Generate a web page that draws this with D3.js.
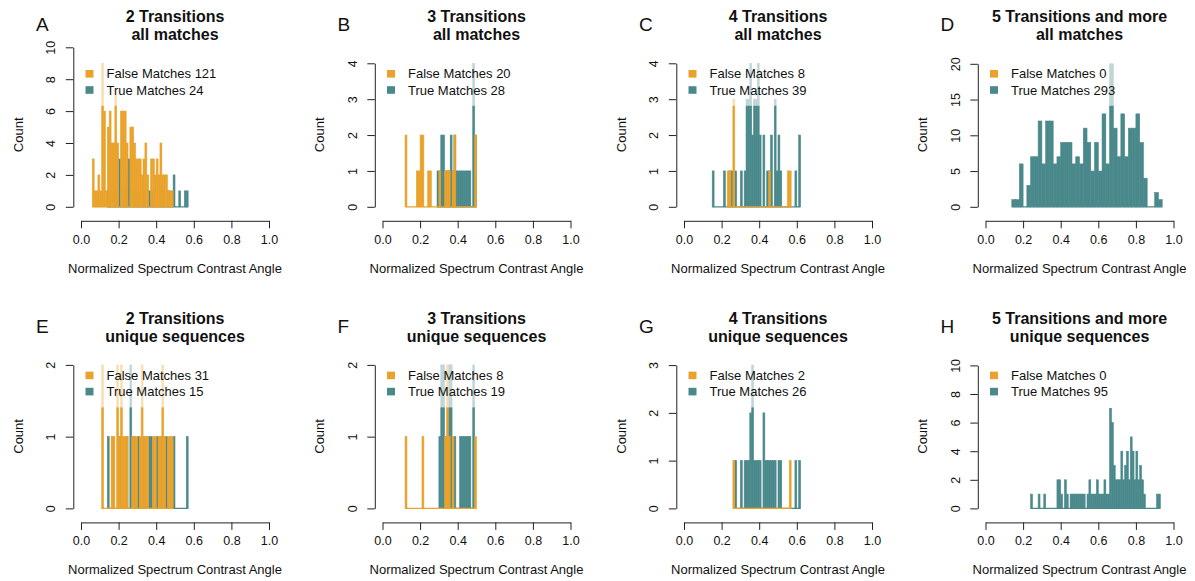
<!DOCTYPE html>
<html lang="en">
<head>
  <meta charset="UTF-8"/>
  <title>Normalized Spectrum Contrast Angle histograms</title>
  <script src="https://cdn.jsdelivr.net/npm/d3@7/dist/d3.min.js"></script>
  <style>
    body { margin: 0; background: #fff; }
    svg { display: block; font-family: 'Liberation Sans', Arial, Helvetica, sans-serif; }
    text { fill: #111; }
    .axis path, .axis line { stroke: #222; stroke-width: 1; }
    .axis text { font-size: 12.5px; fill: #111; }
    .title { font-size: 16px; font-weight: bold; }
    .label { font-size: 13px; }
    .legend text { font-size: 13px; }
    .letter { font-size: 19px; }
  </style>
</head>
<body>
<svg width="1195" height="581"></svg>
<script>
// panel texts
const letters = ['A', 'B', 'C', 'D', 'E', 'F', 'G', 'H'];
const titleTop = ['2 Transitions', '3 Transitions', '4 Transitions', '5 Transitions and more',
                  '2 Transitions', '3 Transitions', '4 Transitions', '5 Transitions and more'];
const titleBottom = ['all matches', 'all matches', 'all matches', 'all matches',
                     'unique sequences', 'unique sequences', 'unique sequences', 'unique sequences'];
const falseTotals = [121, 20, 8, 0, 31, 8, 2, 0];
const trueTotals = [24, 28, 39, 293, 15, 19, 26, 95];

// histogram bins (counts per bin)
const binWidths = [0.01, 0.01, 0.01, 0.02, 0.01, 0.01, 0.01, 0.01];
const falseStarts = [0.06, 0.12, 0.23, 0, 0.11, 0.12, 0.26, 0];
const trueStarts = [0.14, 0.29, 0.15, 0.14, 0.14, 0.30, 0.27, 0.24];

const falseA = [3, 1, 1, 2, 1, 9, 6, 1, 5, 6, 4, 4, 7, 4, 0, 6, 6, 6, 4, 0, 5, 5, 4, 3, 3, 3, 2, 3, 4, 2, 0, 3, 3, 2, 3, 2, 4, 2, 2, 2, 1, 1, 1];
const trueA = [1, 0, 0, 1, 1, 0, 3, 0, 1, 0, 2, 3, 0, 0, 1, 0, 1, 0, 0, 1, 0, 0, 1, 0, 1, 0, 0, 0, 0, 1, 0, 0, 1, 0, 0, 2, 0, 0, 1, 0, 0, 1, 1];
const falseB = [2, 0, 0, 0, 0, 0, 1, 1, 2, 2, 0, 0, 1, 1, 0, 0, 0, 0, 1, 0, 0, 1, 1, 1, 0, 1, 2, 0, 0, 0, 0, 0, 0, 0, 0, 0, 0, 2];
const trueB = [1, 1, 2, 2, 1, 1, 1, 2, 1, 2, 1, 1, 1, 1, 1, 1, 1, 1, 0, 4, 2];
const falseC = [1, 1, 0, 3, 0, 0, 0, 0, 0, 0, 0, 0, 0, 0, 0, 0, 0, 0, 0, 0, 0, 0, 1, 0, 0, 0, 0, 0, 0, 0, 0, 0, 1, 1];
const trueC = [1, 0, 0, 0, 0, 0, 1, 0, 0, 1, 1, 0, 1, 0, 0, 1, 0, 1, 3, 3, 4, 2, 3, 3, 4, 2, 0, 2, 0, 1, 1, 2, 0, 3, 1, 2, 1, 0, 0, 0, 0, 0, 0, 0, 1, 0, 2];
const falseD = [];
const trueD = [1, 1, 6, 0, 3, 7, 7, 12, 6, 12, 12, 6, 7, 9, 9, 9, 6, 7, 6, 11, 9, 5, 9, 5, 13, 6, 20, 11, 7, 13, 7, 11, 11, 13, 9, 4, 0, 0, 2, 1];
const falseE = [2, 0, 0, 0, 0, 1, 1, 0, 2, 1, 2, 1, 1, 1, 0, 0, 1, 1, 1, 0, 1, 2, 1, 1, 1, 0, 0, 1, 1, 0, 1, 1, 2, 1, 0, 1, 1, 1];
const trueE = [1, 0, 0, 0, 0, 0, 1, 0, 0, 0, 1, 0, 2, 0, 1, 0, 1, 0, 0, 1, 0, 0, 1, 1, 0, 0, 1, 0, 1, 0, 0, 1, 0, 0, 0, 1, 0, 0, 0, 0, 0, 0, 1];
const falseF = [1, 0, 0, 0, 0, 0, 0, 0, 0, 1, 0, 0, 0, 0, 0, 0, 0, 0, 0, 0, 0, 1, 2, 1, 0, 1, 0, 0, 0, 0, 0, 0, 0, 0, 0, 0, 0, 1];
const trueF = [1, 2, 2, 1, 0, 2, 2, 0, 1, 0, 0, 1, 1, 1, 1, 1, 1, 0, 2];
const falseG = [1, 0, 0, 0, 0, 0, 0, 0, 0, 0, 0, 0, 0, 0, 0, 0, 0, 0, 0, 0, 0, 0, 0, 0, 0, 0, 0, 0, 0, 0, 1];
const trueG = [1, 0, 0, 1, 0, 1, 1, 1, 2, 3, 1, 1, 1, 1, 0, 2, 1, 1, 1, 1, 1, 1, 0, 1, 1, 0, 0, 0, 0, 0, 0, 0, 1, 0, 1];
const falseH = [];
const trueH = [1, 0, 0, 0, 1, 0, 0, 1, 0, 0, 0, 0, 0, 0, 2, 2, 1, 0, 2, 1, 0, 1, 1, 1, 1, 1, 1, 1, 1, 0, 1, 2, 1, 1, 1, 2, 1, 1, 1, 2, 1, 1, 7, 6, 3, 2, 2, 2, 4, 2, 3, 4, 2, 5, 4, 2, 4, 2, 3, 2, 1, 0, 0, 0, 0, 0, 0, 1, 1];

const falseBins = [falseA, falseB, falseC, falseD, falseE, falseF, falseG, falseH];
const trueBins = [trueA, trueB, trueC, trueD, trueE, trueF, trueG, trueH];

// axis ticks
const yTicks = [[0, 2, 4, 6, 8, 10], [0, 1, 2, 3, 4], [0, 1, 2, 3, 4], [0, 5, 10, 15, 20],
                [0, 1, 2], [0, 1, 2], [0, 1, 2, 3], [0, 2, 4, 6, 8, 10]];
const xTicks = [0, 0.2, 0.4, 0.6, 0.8, 1.0];

const orange = '#E9A22B';
const teal = '#4A898B';

// layout
const colX = [81, 382.5, 684, 985.5];
const rowZero = [206.8, 508.4];
const plotW = 188;
const axisHeights = [159.5, 143.5, 143.5, 143, 143.5, 143.5, 143.3, 143];

const svg = d3.select('svg');

letters.forEach((letter, i) => {
  const x0 = colX[i % 4];
  const zeroY = rowZero[Math.floor(i / 4)];
  const yTickSet = yTicks[i];

  const x = d3.scaleLinear().domain([0, 1]).range([x0, x0 + plotW]);
  const y = d3.scaleLinear()
    .domain([0, yTickSet[yTickSet.length - 1]])
    .range([zeroY, zeroY - axisHeights[i]]);

  const g = svg.append('g');

  // histograms: true matches first, false matches drawn over them
  const drawHist = (counts, start, color) => {
    if (!counts.length) return;
    const w = binWidths[i];
    const bins = counts.map((n, k) => ({ x0: start + k * w, x1: start + (k + 1) * w, n: n }));
    g.append('line')
      .attr('x1', x(bins[0].x0)).attr('x2', x(bins[bins.length - 1].x1))
      .attr('y1', y(0)).attr('y2', y(0))
      .attr('stroke', color).attr('stroke-width', 1.2);
    g.selectAll(null)
      .data(bins.filter(b => b.n > 0))
      .enter()
      .append('rect')
      .attr('x', b => x(b.x0))
      .attr('width', b => x(b.x1) - x(b.x0))
      .attr('y', b => y(b.n))
      .attr('height', b => y(0) - y(b.n))
      .attr('fill', color)
      .attr('stroke', color)
      .attr('stroke-width', 0.6);
  };
  drawHist(trueBins[i], trueStarts[i], teal);
  drawHist(falseBins[i], falseStarts[i], orange);

  // legend with a half transparent white box
  const legend = g.append('g').attr('class', 'legend');
  const rows = [
    { text: 'False Matches ' + falseTotals[i], color: orange },
    { text: 'True Matches ' + trueTotals[i], color: teal }
  ];
  let maxW = 0;
  rows.forEach((r, k) => {
    const cy = zeroY - 133 + k * 16.2;
    legend.append('rect')
      .attr('x', x0 + 4.5).attr('y', cy - 3.8)
      .attr('width', 8).attr('height', 7.6)
      .attr('fill', r.color);
    const t = legend.append('text')
      .attr('x', x0 + 25.5).attr('y', cy)
      .attr('dominant-baseline', 'central')
      .text(r.text);
    maxW = Math.max(maxW, t.node().getComputedTextLength());
  });
  legend.insert('rect', ':first-child')
    .attr('x', x0 - 3).attr('y', zeroY - 150)
    .attr('width', 25.5 + maxW + 8).attr('height', 49)
    .attr('fill', '#fff').attr('fill-opacity', 0.65);

  // y axis
  const yAxis = g.append('g')
    .attr('class', 'axis')
    .attr('transform', `translate(${x0 - 7.7}, 0)`)
    .call(d3.axisLeft(y).tickValues(yTickSet).tickSize(7.5).tickSizeOuter(0).tickFormat(d3.format('d')));
  yAxis.selectAll('text')
    .attr('x', null).attr('dy', null)
    .attr('text-anchor', 'middle')
    .attr('dominant-baseline', 'central')
    .attr('transform', 'translate(-22, 0) rotate(-90)');

  // x axis
  const xAxis = g.append('g')
    .attr('class', 'axis')
    .attr('transform', `translate(0, ${zeroY + 14})`)
    .call(d3.axisBottom(x).tickValues(xTicks).tickSize(7.5).tickSizeOuter(0).tickFormat(d3.format('.1f')));
  xAxis.selectAll('text')
    .attr('y', 19).attr('dy', null)
    .attr('dominant-baseline', 'central');

  g.append('text')
    .attr('class', 'label')
    .attr('x', x0 + plotW / 2)
    .attr('y', zeroY + 61.5)
    .attr('text-anchor', 'middle')
    .attr('dominant-baseline', 'central')
    .text('Normalized Spectrum Contrast Angle');

  g.append('text')
    .attr('class', 'label')
    .attr('transform', `translate(${x0 - 63}, ${zeroY - 72}) rotate(-90)`)
    .attr('text-anchor', 'middle')
    .attr('dominant-baseline', 'central')
    .text('Count');

  g.append('text')
    .attr('class', 'title')
    .attr('x', x0 + 94)
    .attr('y', zeroY - 190)
    .attr('text-anchor', 'middle')
    .attr('dominant-baseline', 'central')
    .text(titleTop[i]);
  g.append('text')
    .attr('class', 'title')
    .attr('x', x0 + 94)
    .attr('y', zeroY - 172)
    .attr('text-anchor', 'middle')
    .attr('dominant-baseline', 'central')
    .text(titleBottom[i]);

  g.append('text')
    .attr('class', 'letter')
    .attr('x', x0 - 45)
    .attr('y', zeroY - 182)
    .attr('dominant-baseline', 'central')
    .text(letter);
});
</script>
</body>
</html>
